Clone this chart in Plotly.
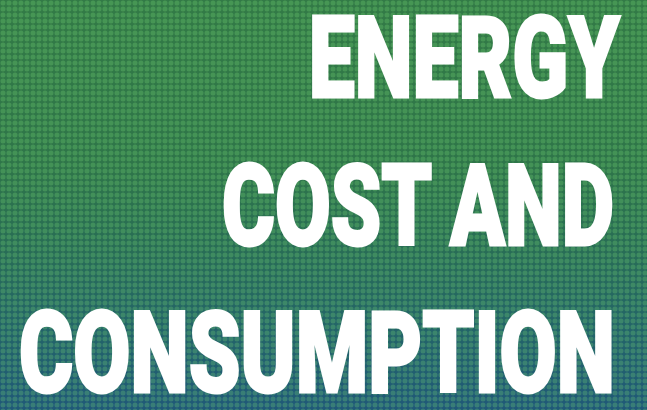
import plotly.graph_objects as go

# ---- content ----
title_lines = ["ENERGY", "COST AND", "CONSUMPTION"]

# ---- layout / style (not data) ----
W, H = 647, 410
# ink box of each line in the reference, px from top-left: [left, right, top, bottom]
line_boxes = [[312, 622, 15, 100], [223, 615, 163, 248], [20, 612, 310, 395]]
font_family = "Roboto, Inter, Lato, sans-serif"
font_size = 78
stroke_px = 2

bg_stops = [[0.0, "#1f5878"], [0.2, "#236468"], [0.4, "#286d55"], [0.6, "#2e7549"], [1.0, "#327a46"]]

fig = go.Figure()

# background rectangle with vertical gradient (gap colour of the fabric texture)
fig.add_trace(go.Scatter(
    x=[0, 1, 1, 0, 0], y=[0, 0, 1, 1, 0], mode="lines",
    line=dict(width=0), fill="toself",
    fillgradient=dict(type="vertical", colorscale=bg_stops),
    hoverinfo="skip", showlegend=False,
))
# dotted texture overlay (light dots of the fabric)
fig.add_trace(go.Scatter(
    x=[0, 1, 1, 0, 0], y=[0, 0, 1, 1, 0], mode="lines",
    line=dict(width=0), fill="toself",
    fillpattern=dict(shape=".", size=6, solidity=0.55,
                     fgcolor="rgba(125,220,120,0.55)", bgcolor="rgba(0,0,0,0)"),
    hoverinfo="skip", showlegend=False,
))

for txt, box in zip(title_lines, line_boxes):
    fig.add_annotation(
        text=txt, xref="paper", yref="paper",
        x=box[1] / W, y=1 - (box[2] + box[3]) / 2 / H, xanchor="right", yanchor="middle",
        showarrow=False,
        font=dict(family=font_family, size=font_size, color="white", weight=900),
    )

fig.update_xaxes(visible=False, range=[0, 1], fixedrange=True)
fig.update_yaxes(visible=False, range=[0, 1], fixedrange=True)
fig.update_layout(
    width=W, height=H, margin=dict(l=0, r=0, t=0, b=0),
    paper_bgcolor="#2a6a55", plot_bgcolor="#2a6a55",
    showlegend=False,
)

# fit each title line's glyphs to its box from the reference (condensed display type)
post_js = """
document.body.style.margin = '0';
var gd = document.getElementById('{plot_id}');
var boxes = BOXES;
var sw = STROKE;
var cv = document.createElement('canvas').getContext('2d');
var texts = gd.querySelectorAll('text.annotation-text');
texts.forEach(function(t, i) {
  var box = boxes[i]; if (!box) return;
  var g = t.parentNode;
  t.style.stroke = '#ffffff';
  t.style.strokeWidth = sw + 'px';
  t.style.strokeLinejoin = 'miter';
  var cs = window.getComputedStyle(t);
  cv.font = cs.fontWeight + ' ' + cs.fontSize + ' ' + cs.fontFamily;
  var m = cv.measureText(t.textContent);
  var bb = t.getBBox();
  var base = parseFloat(t.getAttribute('y'));
  if (isNaN(base)) { base = bb.y + m.fontBoundingBoxAscent; }
  var inkL = bb.x - m.actualBoundingBoxLeft - sw / 2;
  var inkR = bb.x + m.actualBoundingBoxRight + sw / 2;
  var inkT = base - m.actualBoundingBoxAscent - sw / 2;
  var inkB = base + m.actualBoundingBoxDescent + sw / 2;
  var ctm = g.getScreenCTM();
  var L = box[0] - ctm.e, R = box[1] - ctm.e, T = box[2] - ctm.f, B = box[3] - ctm.f;
  var sx = (R - L) / (inkR - inkL), sy = (B - T) / (inkB - inkT);
  var tx = L - sx * inkL, ty = T - sy * inkT;
  var orig = g.getAttribute('transform') || '';
  g.setAttribute('transform', orig + ' matrix(' + sx + ',0,0,' + sy + ',' + tx + ',' + ty + ')');
});
""".replace("BOXES", str(line_boxes)).replace("STROKE", str(stroke_px))

fig.write_html("out.html", config={"displayModeBar": False, "staticPlot": True}, post_script=post_js)
